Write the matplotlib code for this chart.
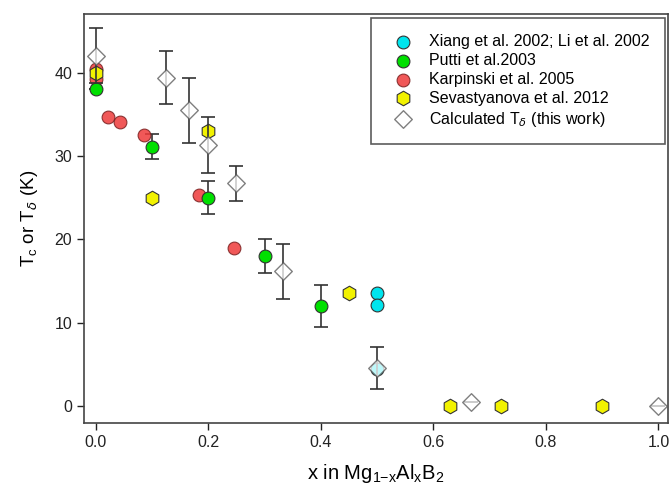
import numpy as np
import matplotlib.pyplot as plt

plt.rcParams['font.family'] = ['Liberation Sans', 'DejaVu Sans']

# Xiang et al. 2002; Li et al. 2002
xiang_x = [0.5, 0.5, 0.5]
xiang_y = [13.6, 12.1, 4.5]

# Putti et al. 2003
putti_x = [0.0, 0.1, 0.2, 0.3, 0.4]
putti_y = [38.0, 31.1, 25.0, 18.0, 12.0]
putti_err = [0.0, 1.5, 2.0, 2.0, 2.5]

# Karpinski et al. 2005
karp_x = [0.0, 0.0, 0.021, 0.043, 0.085, 0.184, 0.245]
karp_y = [40.4, 39.2, 34.7, 34.1, 32.5, 25.3, 19.0]

# Sevastyanova et al. 2012
sev_x = [0.0, 0.1, 0.2, 0.45, 0.63, 0.72, 0.9]
sev_y = [40.0, 25.0, 33.0, 13.6, 0.0, 0.0, 0.0]

# Calculated T_delta (this work)
calc_x = [0.0, 0.125, 0.1667, 0.2, 0.25, 0.3333, 0.5, 0.6667, 1.0]
calc_y = [42.0, 39.4, 35.5, 31.3, 26.7, 16.2, 4.6, 0.5, 0.0]
calc_err = [3.3, 3.2, 3.9, 3.4, 2.15, 3.3, 2.5, 0.0, 0.0]

fig = plt.figure(figsize=(6.71, 4.95), dpi=100)
ax = fig.add_axes([0.125, 0.1455, 0.8705, 0.826])

edge = '#333333'
ax.scatter(karp_x, karp_y, s=85, marker='o', color='#ee3b3b', alpha=0.85,
           edgecolors='#7a2020', linewidths=0.8, zorder=3, label='Karpinski et al. 2005')
ax.errorbar(putti_x, putti_y, yerr=putti_err, fmt='none', ecolor='#333333',
            elinewidth=1.2, capsize=5, capthick=1.2, zorder=2)
ax.scatter(putti_x, putti_y, s=85, marker='o', color='#00e000',
           edgecolors=edge, linewidths=0.8, zorder=4, label='Putti et al.2003')
ax.scatter(xiang_x, xiang_y, s=85, marker='o', color='#00e5ee',
           edgecolors=edge, linewidths=0.8, zorder=4, label='Xiang et al. 2002; Li et al. 2002')
ax.scatter(sev_x, sev_y, s=110, marker='h', color='#f2f200',
           edgecolors=edge, linewidths=0.8, zorder=5, label='Sevastyanova et al. 2012')
ax.errorbar(calc_x, calc_y, yerr=calc_err, fmt='none', ecolor='#333333',
            elinewidth=1.2, capsize=5, capthick=1.2, zorder=5)
ax.scatter(calc_x, calc_y, s=80, marker='D', color='white', alpha=0.75,
           edgecolors='#555555', linewidths=1.0, zorder=6,
           label='Calculated T$_\\delta$ (this work)')

ax.set_xlim(-0.021, 1.017)
ax.set_ylim(-2, 47)
ax.set_xticks([0.0, 0.2, 0.4, 0.6, 0.8, 1.0])
ax.set_xticklabels(['0.0', '0.2', '0.4', '0.6', '0.8', '1.0'])
ax.set_yticks([0, 10, 20, 30, 40])
ax.tick_params(direction='out', length=5, width=1, labelsize=11.5, colors='#222222')
for sp in ax.spines.values():
    sp.set_color('#444444')
    sp.set_linewidth(1.2)

ax.set_xlabel('x in Mg$_{\\mathregular{1}\\mathregular{-}\\mathregular{x}}$Al$_\\mathregular{x}$B$_\\mathregular{2}$',
              fontsize=14.5, labelpad=9)
ax.set_ylabel('T$_\\mathregular{c}$ or T$_\\delta$ (K)', fontsize=13.5, labelpad=10)

handles, labels = ax.get_legend_handles_labels()
order = [2, 1, 0, 3, 4]
leg = ax.legend([handles[i] for i in order], [labels[i] for i in order],
                loc='upper right', fontsize=11.5, frameon=True, fancybox=False,
                edgecolor='#333333', borderpad=1.0, labelspacing=0.24,
                handletextpad=0.6, borderaxespad=0,
                bbox_to_anchor=(0.995, 0.99))
leg.get_frame().set_linewidth(1.2)

fig.savefig('out.png', dpi=100)
